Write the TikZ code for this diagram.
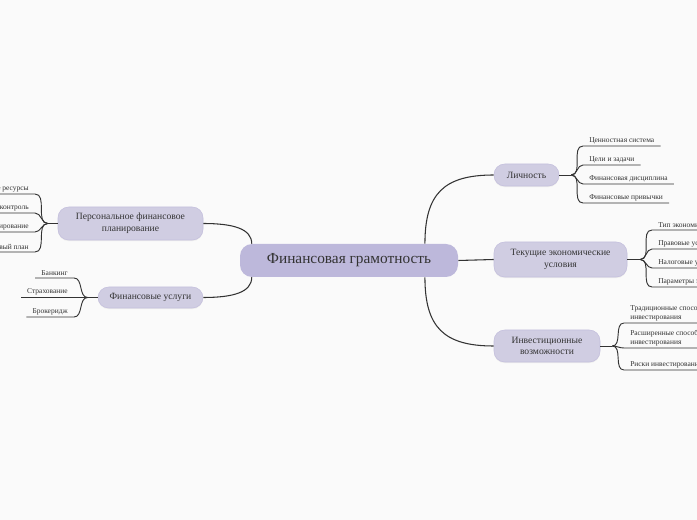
\documentclass[tikz,border=0pt]{standalone}
\usepackage{fontspec}
\setmainfont{Liberation Serif}
\usetikzlibrary{positioning,shadows}
\definecolor{bgc}{HTML}{FAFAFA}
\definecolor{rootc}{HTML}{BDB8DB}
\definecolor{topc}{HTML}{D0CDE2}
\definecolor{topd}{HTML}{C4BFDD}
\definecolor{ink}{HTML}{333333}
\tikzset{
  root/.style={fill=rootc,rounded corners=9pt,minimum width=163.5pt,minimum height=24.75pt,inner sep=0pt,font=\fontsize{11.5}{13}\selectfont,text=ink},
  topic/.style={fill=topc,draw=topd,line width=.4pt,rounded corners=8pt,inner sep=0pt,align=center,font=\fontsize{7.2}{8.8}\selectfont,text=ink,drop shadow={shadow xshift=0pt,shadow yshift=-.8pt,opacity=.12}},
  leafr/.style={anchor=south west,inner xsep=4.5pt,inner ysep=1.5pt,align=left,font=\fontsize{5.6}{6.3}\selectfont,text=ink},
  leafl/.style={leafr,anchor=south east,align=right},
  link/.style={draw=ink,line width=.8pt},
  twig/.style={draw=ink,line width=.7pt}
}
\begin{document}
\begin{tikzpicture}[x=.75pt,y=-.75pt]
\useasboundingbox (0,0) rectangle (697,520);
\fill[bgc] (0,0) rectangle (697,520);
\clip (0,0) rectangle (697,520);

\node[root] (fg) at (349,260.5) {Финансовая грамотность};
\node[topic,minimum width=48.75pt,minimum height=16.5pt] (lich) at (526.5,175) {Личность};
\node[topic,minimum width=99.75pt,minimum height=26.25pt] (tek) at (560.5,259.5) {Текущие экономические\\условия};
\node[topic,minimum width=79.5pt,minimum height=24pt] (inv) at (547,346) {Инвестиционные\\возможности};
\node[topic,minimum width=108.75pt,minimum height=24.75pt] (pers) at (130.5,223.5) {Персональное финансовое\\планирование};
\node[topic,minimum width=78.75pt,minimum height=15.75pt] (usl) at (150.5,297.5) {Финансовые услуги};

% main branches
\draw[link] ([xshift=-25pt]fg.north east) .. controls +(0,-50) and +(-50,0) .. (lich.west);
\draw[link] (fg.east) -- (tek.west);
\draw[link] ([xshift=-25pt]fg.south east) .. controls +(0,50) and +(-50,0) .. (inv.west);
\draw[link] (pers.east) .. controls +(30,0) and +(0,-15) .. ([xshift=9pt]fg.north west);
\draw[link] (usl.east) .. controls +(30,0) and +(0,15) .. ([xshift=9pt]fg.south west);

% Личность
\coordinate (lichj) at ([xshift=9pt]lich.east);
\draw[twig] (lich.east) -- (lichj);
\node[leafr] (lc1) at (583,146) {Ценностная система};
\node[leafr] (lc2) at (583,165) {Цели и задачи};
\node[leafr] (lc3) at (583,184) {Финансовая дисциплина};
\node[leafr] (lc4) at (583,203) {Финансовые привычки};
\foreach \n in {lc1,lc2,lc3,lc4} \draw[twig] (lichj) to[out=0,in=180] (\n.south west) -- (\n.south east);

% Текущие экономические условия
\coordinate (tekj) at ([xshift=9.75pt]tek.east);
\draw[twig] (tek.east) -- (tekj);
\node[leafr] (te1) at (652,230) {Тип экономики};
\node[leafr] (te2) at (652,249) {Правовые условия};
\node[leafr] (te3) at (652,268) {Налоговые условия};
\node[leafr] (te4) at (652,287) {Параметры экономики};
\foreach \n in {te1,te2,te3,te4} \draw[twig] (tekj) to[out=0,in=180] (\n.south west) -- (\n.south east);

% Инвестиционные возможности
\coordinate (invj) at ([xshift=9pt]inv.east);
\draw[twig] (inv.east) -- (invj);
\node[leafr] (iv1) at (624,323) {Традиционные способы\\инвестирования};
\node[leafr] (iv2) at (624,348) {Расширенные способы\\инвестирования};
\node[leafr] (iv3) at (624,370) {Риски инвестирования};
\foreach \n in {iv1,iv2,iv3} \draw[twig] (invj) to[out=0,in=180] (\n.south west) -- (\n.south east);

% Персональное финансовое планирование
\coordinate (persj) at ([xshift=-7.5pt]pers.west);
\draw[twig] (pers.west) -- (persj);
\node[leafl] (pf1) at (35,194) {Финансовые ресурсы};
\node[leafl] (pf2) at (35,213) {Финансовый контроль};
\node[leafl] (pf3) at (35,232) {Бюджетирование};
\node[leafl] (pf4) at (35,252) {Финансовый план};
\foreach \n in {pf1,pf2,pf3,pf4} \draw[twig] (persj) to[out=180,in=0] (\n.south east) -- (\n.south west);

% Финансовые услуги
\coordinate (uslj) at ([xshift=-7.5pt]usl.west);
\draw[twig] (usl.west) -- (uslj);
\node[leafl] (fu1) at (74,278) {Банкинг};
\node[leafl] (fu2) at (74,297.5) {Страхование};
\node[leafl] (fu3) at (74,317) {Брокеридж};
\foreach \n in {fu1,fu2,fu3} \draw[twig] (uslj) to[out=180,in=0] (\n.south east) -- (\n.south west);
\end{tikzpicture}
\end{document}
